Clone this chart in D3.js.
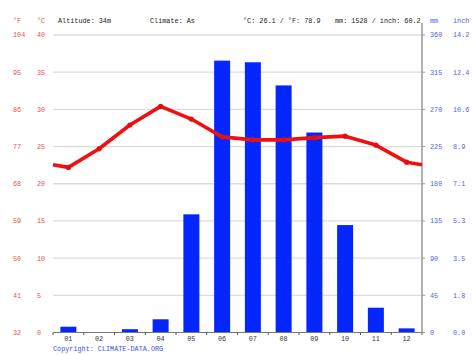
<!DOCTYPE html>
<html><head><meta charset="utf-8">
<script src="https://cdn.jsdelivr.net/npm/d3@7"></script>
<style>body{margin:0;background:#fff}svg{display:block}text{font-family:"Liberation Mono","DejaVu Sans Mono",monospace;font-size:6.8px}</style>
</head><body>
<script>
const months = ["01","02","03","04","05","06","07","08","09","10","11","12"];
const precipMM = [7,0,4,16,143,329,327,299,242,130,30,5];
const tempC = [22.2,24.7,27.9,30.4,28.7,26.3,25.9,25.9,26.2,26.4,25.2,22.9];
const cTicks = [0,5,10,15,20,25,30,35,40];
const fLabels = ["32","41","50","59","68","77","86","95","104"];
const mmTicks = [0,45,90,135,180,225,270,315,360];
const inchLabels = ["0.0","1.8","3.5","5.3","7.1","8.9","10.6","12.4","14.2"];
const header = ["Altitude: 34m","Climate: As","°C: 26.1 / °F: 78.9","mm: 1528 / inch: 60.2"];

const W=474,H=355, L=53, R=422, T=35, B=332.5;
const svg=d3.select("body").append("svg").attr("width",W).attr("height",H);
const x=d3.scaleBand().domain(months).range([L,R]);
const yT=d3.scaleLinear().domain([0,40]).range([B,T]);
const yP=d3.scaleLinear().domain([0,360]).range([B,T]);

// gridlines
svg.append("g").selectAll("line").data(cTicks.slice(1)).join("line")
  .attr("x1",L).attr("x2",R).attr("y1",d=>yT(d)).attr("y2",d=>yT(d))
  .attr("stroke","#dcdcdc").attr("stroke-width",1.3);

// bars
const bw=16;
svg.append("g").selectAll("rect").data(precipMM).join("rect")
  .attr("x",(d,i)=>x(months[i])+x.bandwidth()/2-bw/2).attr("width",bw)
  .attr("y",d=>yP(d)).attr("height",d=>B-yP(d)).attr("fill","#0526ff");

// x axis
svg.append("line").attr("x1",L).attr("x2",R).attr("y1",B).attr("y2",B).attr("stroke","#777").attr("stroke-width",1.2);
svg.append("g").selectAll("line").data(d3.range(13)).join("line")
  .attr("x1",i=>L+i*x.step()).attr("x2",i=>L+i*x.step()).attr("y1",B).attr("y2",B+2.5)
  .attr("stroke","#555").attr("stroke-width",1);
svg.append("g").selectAll("text").data(months).join("text")
  .attr("x",d=>x(d)+x.bandwidth()/2).attr("y",340.5).attr("text-anchor","middle").attr("fill","#333").text(d=>d);

// right axis
svg.append("line").attr("x1",R).attr("x2",R).attr("y1",23).attr("y2",B).attr("stroke","#999").attr("stroke-width",1.5);
svg.append("g").selectAll("line").data(mmTicks).join("line")
  .attr("x1",R).attr("x2",R+3).attr("y1",d=>yP(d)).attr("y2",d=>yP(d)).attr("stroke","#999").attr("stroke-width",1);
svg.append("g").selectAll("text").data(mmTicks).join("text")
  .attr("x",430).attr("y",d=>yP(d)+2.4).attr("fill","#5561e0").text(d=>d);
svg.append("g").selectAll("text").data(inchLabels).join("text")
  .attr("x",453).attr("y",(d,i)=>yP(mmTicks[i])+2.4).attr("fill","#5561e0").text(d=>d);
svg.append("text").attr("x",430).attr("y",23.4).attr("fill","#5561e0").text("mm");
svg.append("text").attr("x",453).attr("y",23.4).attr("fill","#5561e0").text("inch");

// left labels
svg.append("g").selectAll("text").data(fLabels).join("text")
  .attr("x",13).attr("y",(d,i)=>yT(cTicks[i])+2.4).attr("fill","#e85050").text(d=>d);
svg.append("g").selectAll("text").data(cTicks).join("text")
  .attr("x",37).attr("y",d=>yT(d)+2.4).attr("fill","#e85050").text(d=>d);
svg.append("text").attr("x",13).attr("y",23.4).attr("fill","#e85050").text("°F");
svg.append("text").attr("x",37).attr("y",23.4).attr("fill","#e85050").text("°C");

// header
const hx=[58,150,243,335];
svg.append("g").selectAll("text").data(header).join("text")
  .attr("x",(d,i)=>hx[i]).attr("y",23.4).attr("fill","#222").text(d=>d);

// temperature line
const edge=(tempC[0]+tempC[11])/2;
const pts=[[L,edge]].concat(tempC.map((t,i)=>[x(months[i])+x.bandwidth()/2,t])).concat([[R,edge]]);
svg.append("path").datum(pts).attr("fill","none").attr("stroke","#f01010").attr("stroke-width",3.6)
  .attr("stroke-linejoin","round")
  .attr("d",d3.line().x(d=>d[0]).y(d=>yT(d[1])));
svg.append("g").selectAll("circle").data(tempC).join("circle")
  .attr("cx",(d,i)=>x(months[i])+x.bandwidth()/2).attr("cy",d=>yT(d)).attr("r",2.6).attr("fill","#e01010");

svg.append("text").attr("x",53).attr("y",350.5).attr("fill","#3a55d8").text("Copyright: CLIMATE-DATA.ORG");
</script>
</body></html>
